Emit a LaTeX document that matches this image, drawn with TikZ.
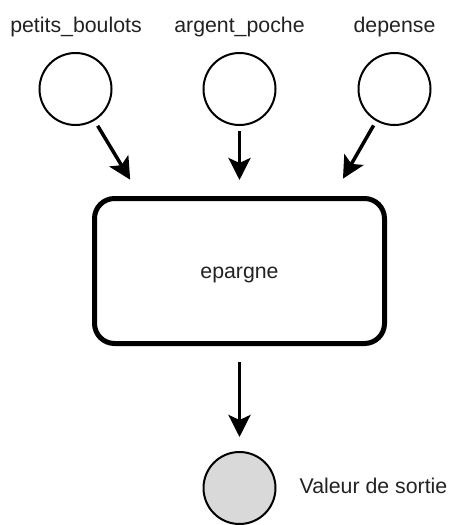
\documentclass[tikz,border=0pt]{standalone}
\usepackage{fontspec}
\setmainfont{Liberation Sans}
\usetikzlibrary{arrows.meta}
\definecolor{ink}{HTML}{222222}
\definecolor{outfill}{HTML}{D9D9D9}
\begin{document}
\begin{tikzpicture}[x=1pt,y=-1pt,
  lbl/.style={font=\fontsize{21.3}{25}\selectfont, text=ink, inner sep=0pt},
  varnode/.style={circle, draw=black, line width=2pt, minimum size=72pt, inner sep=0pt},
  outnode/.style={varnode, fill=outfill},
  calcbox/.style={draw=black, line width=5pt, rounded corners=20pt,
                  minimum width=290pt, minimum height=145pt, inner sep=0pt, fill=white},
  flow/.style={line width=3.5pt, -{Stealth[length=22pt,width=22pt,inset=5pt]}}]
  \useasboundingbox (0,0) rectangle (451,525);

  % input variables
  \node[varnode] (pb) at (75.5,89) {};
  \node[varnode] (ap) at (239.5,89) {};
  \node[varnode] (dp) at (394.5,89) {};
  \node[lbl, anchor=base] (pbl) at (76,32.5) {petits\_boulots};
  \node[lbl, anchor=base] (apl) at (239.5,32.5) {argent\_poche};
  \node[lbl, anchor=base] (dpl) at (394.5,32.5) {depense};

  % computed quantity
  \node[calcbox] (ep) at (239.5,271) {};
  \node[lbl, anchor=base] (epl) at (239.5,278) {epargne};

  % output
  \node[outnode] (out) at (239.5,488) {};
  \node[lbl, anchor=base] (outl) at (373.5,493) {Valeur de sortie};

  % entry points on the top edge of the box
  \coordinate (in1) at (140,196);
  \coordinate (in2) at (239.5,196);
  \coordinate (in3) at (333,196);

  \draw[flow, shorten <=6pt, shorten >=19pt] (pb) -- (in1);
  \draw[flow, shorten <=5pt, shorten >=16pt] (ap) -- (in2);
  \draw[flow, shorten <=5pt, shorten >=20pt] (dp) -- (in3);
  \draw[flow, shorten <=16pt, shorten >=14pt] (ep) -- (out);
\end{tikzpicture}
\end{document}
